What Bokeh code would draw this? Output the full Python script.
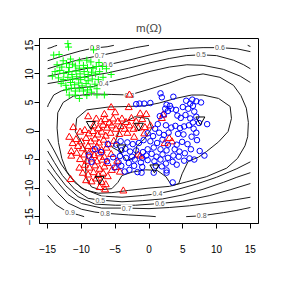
from bokeh.plotting import figure
from bokeh.models import FixedTicker, ColumnDataSource
from bokeh.core.properties import value
from bokeh.embed import file_html
from bokeh.resources import INLINE

# ---------------- data: point clouds ----------------
green_x = [-12.0, -11.9, -8.2, -14.1, -13.3, -12.7, -11.6, -10.3, -9.2, -8.6, -7.4, -6.9,
           -13.6, -12.9, -12.2, -11.8, -11.3, -10.9, -10.3, -9.7, -9.1, -8.3, -7.8, -6.3,
           -13.9, -13.2, -12.6, -11.9, -11.4, -10.8, -10.2, -9.6, -9.0, -8.5, -7.9, -7.3, -5.6,
           -14.3, -13.4, -12.7, -12.0, -11.3, -10.7, -10.1, -9.5, -9.0, -8.4, -7.5, -6.8,
           -13.0, -12.3, -11.6, -11.0, -10.4, -9.9, -9.3, -8.7, -8.0,
           -12.2, -11.5, -10.9, -10.3, -9.7, -9.1, -8.5, -7.7,
           -11.8, -10.3, -9.2, -7.7, -6.6, -10.9]
green_y = [15.3, 14.7, 14.2, 13.3, 13.4, 12.3, 12.6, 12.3, 12.4, 12.1, 12.0, 11.3,
           11.6, 11.2, 11.8, 11.1, 11.7, 11.4, 11.0, 11.5, 11.1, 11.0, 11.3, 10.9,
           10.4, 10.6, 10.1, 10.4, 9.9, 10.5, 10.0, 10.4, 9.9, 10.3, 10.0, 10.4, 9.9,
           9.6, 9.3, 9.0, 9.4, 9.1, 9.5, 9.0, 9.4, 8.8, 9.1, 9.0, 9.4,
           8.3, 8.0, 8.5, 8.1, 8.4, 7.9, 8.3, 7.7, 8.2,
           7.2, 7.5, 7.0, 7.4, 7.0, 7.2, 6.8, 7.4,
           6.3, 5.7, 6.2, 6.3, 6.3, 6.3]

red_x = [-2.9,
         -5.6, -3.0,
         -9.0, -6.6, -5.0, -1.3, -0.4, 2.1,
         -7.8, -7.1, -6.5, -5.9, -5.3, -4.6, -4.0, -3.4, -2.6, -1.9, -1.0, 1.9,
         -11.2, -8.2, -7.5, -6.8, -6.2, -5.5, -4.9, -4.2, -3.6, -2.9, -2.3, -1.6, -0.6, 0.2,
         -10.2, -9.5, -8.9, -8.3, -7.6, -7.0, -6.4, -5.7, -4.4, -3.2, -0.7,
         -11.8, -10.8, -10.0, -9.3, -8.6, -8.0, -7.4, -6.7, -6.0, -5.2, -2.2,
         -11.3, -10.5, -9.8, -9.0, -8.3, -7.7, -7.0, -6.3, 3.4, 3.0, 2.3,
         -11.5, -10.7, -9.6, -8.8, -8.1, -7.4, -6.6, -5.6, -1.6, -1.3,
         -11.5, -10.2, -9.2, -8.5, -7.7, -6.9, -6.1, -4.7,
         -10.3, -9.5, -8.8, -8.0, -7.3, -6.6, -5.5, -4.9,
         -9.8, -9.0, -8.2, -7.5, -6.8, -6.1, -4.3,
         -11.6, -9.3, -8.5, -7.8, -7.0, -6.4,
         -7.3, -6.5, -3.8]
red_y = [6.3,
         4.1, 4.1,
         2.5, 2.9, 3.2, 3.0, 2.9, 2.8,
         2.1, 1.6, 2.0, 1.4, 2.1, 1.6, 2.1, 1.5, 2.2, 1.6, 2.0, 2.2,
         0.6, 0.9, 0.4, 1.0, 0.5, 0.9, 0.3, 0.8, 0.3, 0.9, 0.3, 0.5, 0.6, 0.9,
         -0.2, 0.1, -0.5, -0.1, -0.7, -0.2, -0.9, -0.4, -0.6, -0.4, -0.5,
         -1.1, -1.5, -1.9, -1.3, -1.9, -1.4, -2.1, -1.6, -2.4, -1.8, -1.1,
         -2.2, -2.7, -3.1, -2.7, -3.3, -2.8, -3.4, -3.0, -1.9, -1.3, -2.2,
         -3.6, -3.9, -4.2, -3.8, -4.3, -4.0, -4.6, -4.1, -4.2, -4.4,
         -4.4, -5.0, -5.3, -4.9, -5.4, -5.1, -5.7, -5.3,
         -6.5, -6.0, -6.5, -6.1, -6.7, -6.3, -6.9, -6.4,
         -7.4, -7.7, -7.3, -7.8, -7.4, -8.0, -7.2,
         -8.5, -8.7, -8.9, -8.4, -9.0, -9.4,
         -9.9, -10.3, -10.5]

blue_x = [1.7, 3.6, 1.9,
          -1.9, -1.4, -0.7, 0.2, 2.6, 3.1, 5.5, 6.4, 7.0, 7.7, 6.1,
          2.4, 2.8, 3.3, 4.0, 5.0, 5.8, 6.5, 6.7,
          1.6, 2.2, 4.2, 4.7, 5.4, 6.1, 7.0, 7.4, 8.6, 6.5,
          1.3, 2.5, 3.3, 3.9, 4.6, 5.2, 5.9, 6.6, 7.0, 0.9,
          -0.2, 0.6, 1.5, 2.2, 2.9, 4.3, 5.1, 6.3, 7.1,
          -3.2, -2.4, -1.5, -0.8, 0.2, 1.2, 2.0, 2.8, 4.1, 4.9, 5.7, -6.1, -4.8, -4.2,
          -8.0, -7.1, -4.1, -3.5, -2.8, -1.9, -0.9, -0.2, 0.7, 1.7, 2.6, 3.8, 4.5, 5.3, 6.2, 7.5,
          -8.9, -5.3, -4.3, -3.4, -2.5, -1.0, -0.4, 0.4, 1.1, 2.0, 2.8, 3.6, 4.4, 6.0, 6.7, 8.2,
          -8.5, -6.2, -4.5, -3.0, -2.1, -1.2, -0.2, 0.8, 1.7, 2.5, 3.5, 5.2, 4.1,
          -5.1, -4.1, -2.9, -2.2, -1.0, 1.0, 1.9, 2.6,
          -3.6, -1.7, -1.1, 0.7, 2.6,
          3.5]
blue_y = [6.6, 6.0, 5.9,
          4.7, 4.8, 4.8, 4.9, 4.6, 4.4, 5.3, 5.5, 5.2, 5.0, 4.8,
          3.9, 3.5, 3.9, 3.7, 4.2, 3.9, 4.4, 3.4,
          2.6, 2.9, 2.7, 2.3, 2.8, 2.2, 2.5, 1.4, 1.2, 1.5,
          1.2, 1.0, 0.6, 0.9, 0.5, 0.8, 1.0, 0.4, -0.3, 0.4,
          -0.4, -0.9, -0.3, -0.7, -0.3, -0.5, -0.6, -1.0, -1.6,
          -2.0, -2.3, -2.1, -1.6, -1.8, -2.1, -1.5, -2.4, -2.4, -1.9, -2.3, -2.3, -2.4, -1.8,
          -3.2, -3.7, -3.4, -3.1, -3.6, -3.4, -3.7, -3.2, -2.9, -3.2, -3.4, -3.2, -3.6, -3.9, -3.2, -3.5,
          -4.3, -4.6, -4.4, -4.7, -4.5, -4.7, -4.3, -4.0, -4.5, -4.1, -4.7, -4.3, -4.5, -4.8, -5.0, -4.3,
          -5.4, -5.3, -5.5, -5.6, -5.0, -5.5, -5.1, -5.3, -5.0, -5.7, -5.4, -5.2, -5.9,
          -6.4, -6.1, -6.8, -6.1, -6.3, -6.1, -6.2, -6.9,
          -7.1, -7.2, -7.3, -7.3, -7.3,
          -9.0]

proto_x = [-8.6, -1.5, -4.1, 7.6, 0.8, -7.3]
proto_y = [1.2, 0.9, -2.9, 2.0, -6.4, -8.4]

# ---------------- data: contour lines of m(Omega) ----------------
l09a_x = [-15.0, -14.5, -14.0, -13.6]
l09a_y = [14.45, 14.6, 14.85, 15.0]
l08a_x = [-15.0, -12.6, -10.2, -8.7, -8.0, -6.2, -5.2]
l08a_y = [12.3, 13.2, 14.0, 14.4, 14.55, 14.75, 15.0]
l07a_x = [-15.0, -12.5, -10.0, -7.3, -4.5, -2.0, 0.0]
l07a_y = [10.9, 11.8, 12.6, 13.2, 13.9, 14.6, 15.0]
l07b_x = [14.6, 15.0]
l07b_y = [15.0, 14.8]
l06a_x = [-15.0, -12.0, -9.0, -6.1, -3.0, 0.0, 3.0, 6.0, 8.0, 10.5, 13.0, 15.0]
l06a_y = [9.6, 10.3, 11.0, 11.6, 12.4, 13.3, 14.1, 14.5, 14.6, 14.6, 14.4, 13.9]
l05a_x = [-15.0, -12.0, -9.0, -6.0, -3.0, 0.0, 3.0, 5.5, 7.7, 10.0, 12.5, 14.0, 15.0]
l05a_y = [8.3, 8.9, 9.6, 10.2, 11.0, 11.9, 12.7, 13.2, 13.35, 13.2, 12.4, 11.6, 10.9]
l04a_x = [15.0, 13.5, 11.0, 8.0, 5.6, 3.0, 0.0, -3.0, -6.7, -8.2, -10.0, -11.7, -13.0, -14.1, -14.9, -15.0]
l04a_y = [8.5, 9.6, 10.8, 11.5, 11.6, 11.2, 10.4, 9.4, 8.4, 7.8, 7.6, 7.4, 7.0, 6.3, 4.6, 4.2]
l04b_x = [-15.0, -14.0, -13.0, -11.8, -10.0, -7.0, -4.0, -1.0, 1.25, 4.0, 7.0, 10.0, 13.0, 15.0]
l04b_y = [-1.4, -3.5, -5.8, -7.8, -10.0, -11.4, -11.6, -11.3, -11.0, -10.3, -9.3, -8.1, -6.6, -5.4]
l05b_x = [-15.0, -14.0, -12.8, -11.0, -9.0, -7.2, -4.0, -1.0, 2.0, 5.0, 8.0, 11.0, 13.0, 15.0]
l05b_y = [-3.5, -5.5, -7.8, -10.2, -11.8, -12.1, -12.4, -12.2, -11.9, -11.2, -10.2, -9.0, -8.1, -7.3]
l06b_x = [-15.0, -13.8, -12.3, -10.5, -8.0, -5.0, -2.0, 1.6, 5.0, 9.0, 12.0, 15.0]
l06b_y = [-5.2, -7.3, -9.6, -11.5, -12.8, -13.0, -13.0, -12.7, -12.3, -11.3, -10.3, -9.2]
l07c_x = [-15.0, -13.5, -12.0, -10.0, -7.0, -3.3, 0.0, 3.0, 6.0, 10.5, 13.0, 15.0]
l07c_y = [-6.7, -9.0, -11.1, -12.7, -13.5, -13.5, -13.6, -13.4, -13.1, -12.4, -12.0, -11.6]
l08b_x = [-15.0, -13.5, -12.0, -10.0, -8.0, -6.5, -3.0, 0.0, 1.0]
l08b_y = [-8.6, -10.8, -12.6, -13.7, -14.2, -14.4, -14.7, -14.9, -15.0]
l08c_x = [5.5, 7.8, 11.0, 13.0, 15.0]
l08c_y = [-15.0, -14.85, -14.3, -13.9, -13.4]
l09b_x = [-15.0, -13.8, -12.6, -11.7, -10.4, -9.6]
l09b_y = [-11.3, -12.9, -13.8, -14.3, -14.7, -15.0]
l03_x = [-2.9, 0.0, 3.0, 5.6, 8.0, 10.5, 12.5, 13.6, 14.4, 14.7, 14.6, 14.2, 13.1, 11.5, 8.5, 5.6,
         3.0, 0.0, -3.0, -5.5, -7.5, -9.5, -11.0, -12.2, -12.9, -13.4, -13.6, -13.5, -12.7, -11.2,
         -8.5, -5.5, -2.9]
l03_y = [6.3, 7.3, 8.4, 9.5, 10.0, 9.4, 8.0, 6.2, 4.0, 1.5, -1.0, -2.6, -4.8, -6.5, -8.0, -8.9,
         -9.7, -10.0, -10.4, -10.8, -10.9, -10.3, -9.0, -7.0, -4.8, -2.0, 0.5, 3.2, 5.0, 6.1,
         6.5, 6.4, 6.3]
l02_x = [-3.0, -6.0, -9.2, -10.7, -10.9, -9.9, -9.2, -9.4, -9.3, -8.5, -7.2, -5.5, -4.6, -4.0,
         -2.5, -0.5, 1.2, 2.5, 3.4, 4.4, 4.9, 5.8, 7.3, 8.5, 10.3, 11.7, 12.2, 12.0, 10.3, 8.0,
         6.3, 3.9, 1.5, -0.6, -3.0]
l02_y = [4.3, 4.2, 3.7, 2.2, -0.1, -2.2, -3.9, -6.0, -8.3, -9.8, -10.3, -10.1, -9.0, -7.8,
         -7.2, -6.8, -6.9, -8.0, -9.6, -9.2, -7.5, -5.3, -4.6, -3.6, -1.9, -0.1, 2.2, 4.3, 5.7, 6.3,
         6.3, 5.7, 4.9, 4.4, 4.3]
l01_x = [-4.0, -2.1, -0.1, 0.4, -0.6, -1.8, -2.1, -3.3, -4.3, -5.4, -4.8, -4.0]
l01_y = [1.3, 2.5, 2.2, 0.5, -1.3, -2.6, -4.6, -5.2, -3.6, -2.9, -1.3, 1.3]

label_text = ["0.8", "0.7", "0.6", "0.4", "0.3", "0.6", "0.5", "0.4", "0.5", "0.6", "0.7", "0.8", "0.8", "0.9"]
label_x = [-8.0, -7.3, -6.1, -6.7, -2.9, 10.5, 7.7, 1.25, -7.2, 1.6, -3.3, -6.5, 7.8, -11.7]
label_y = [14.55, 13.2, 11.6, 8.4, 6.3, 14.6, 13.35, -11.0, -12.1, -12.7, -13.5, -14.4, -14.85, -14.3]

x_ticks = [-15, -10, -5, 0, 5, 10, 15]
y_ticks = [-15, -10, -5, 0, 5, 10, 15]

FONT = "Liberation Sans"

p = figure(width=275, height=275, x_range=(-16.2, 16.2), y_range=(-16.2, 16.2),
           output_backend="svg", toolbar_location=None,
           min_border_left=39, min_border_right=17, min_border_top=38, min_border_bottom=52)
p.background_fill_color = "white"
p.border_fill_color = "white"
p.outline_line_color = "black"
p.outline_line_width = 1
p.grid.visible = False

p.title.text = "m(\u03a9)"
p.title.align = "center"
p.title.text_font = FONT
p.title.text_font_size = "11.5px"
p.title.text_font_style = "normal"
p.title.standoff = 10

for ax, ticks in ((p.xaxis[0], x_ticks), (p.yaxis[0], y_ticks)):
    ax.ticker = FixedTicker(ticks=ticks)
    ax.minor_tick_line_color = None
    ax.major_tick_in = 0
    ax.major_tick_out = 5
    ax.axis_line_color = "black"
    ax.major_tick_line_color = "black"
    ax.major_label_text_font = FONT
    ax.major_label_text_font_size = "10px"
    ax.major_label_text_color = "black"
p.xaxis.major_label_standoff = 16
p.yaxis.major_label_standoff = 1
p.yaxis.major_label_orientation = "vertical"

paths_x = [l09a_x, l08a_x, l07a_x, l07b_x, l06a_x, l05a_x, l04a_x, l04b_x, l05b_x, l06b_x,
           l07c_x, l08b_x, l08c_x, l09b_x, l03_x, l02_x, l01_x]
paths_y = [l09a_y, l08a_y, l07a_y, l07b_y, l06a_y, l05a_y, l04a_y, l04b_y, l05b_y, l06b_y,
           l07c_y, l08b_y, l08c_y, l09b_y, l03_y, l02_y, l01_y]
p.multi_line(xs=paths_x, ys=paths_y, line_color="#1a1a1a", line_width=1)

lab_src = ColumnDataSource(dict(x=label_x, y=label_y, t=label_text))
p.text(x="x", y="y", text="t", source=lab_src, text_align="center", text_baseline="middle",
       text_font=value(FONT), text_font_size="7px", text_color="#555555",
       background_fill_color="white", padding=1)

p.scatter(green_x, green_y, marker="cross", size=7, line_color="#00FF00", line_width=1)
p.scatter(red_x, red_y, marker="triangle", size=7, line_color="#FF0000", fill_color=None, line_width=1)
p.scatter(blue_x, blue_y, marker="circle", size=5.5, line_color="#0000FF", fill_color=None, line_width=1)
p.scatter(proto_x, proto_y, marker="inverted_triangle", size=9, line_color="black", fill_color=None, line_width=1)

open("out.html", "w").write(file_html(p, INLINE))
